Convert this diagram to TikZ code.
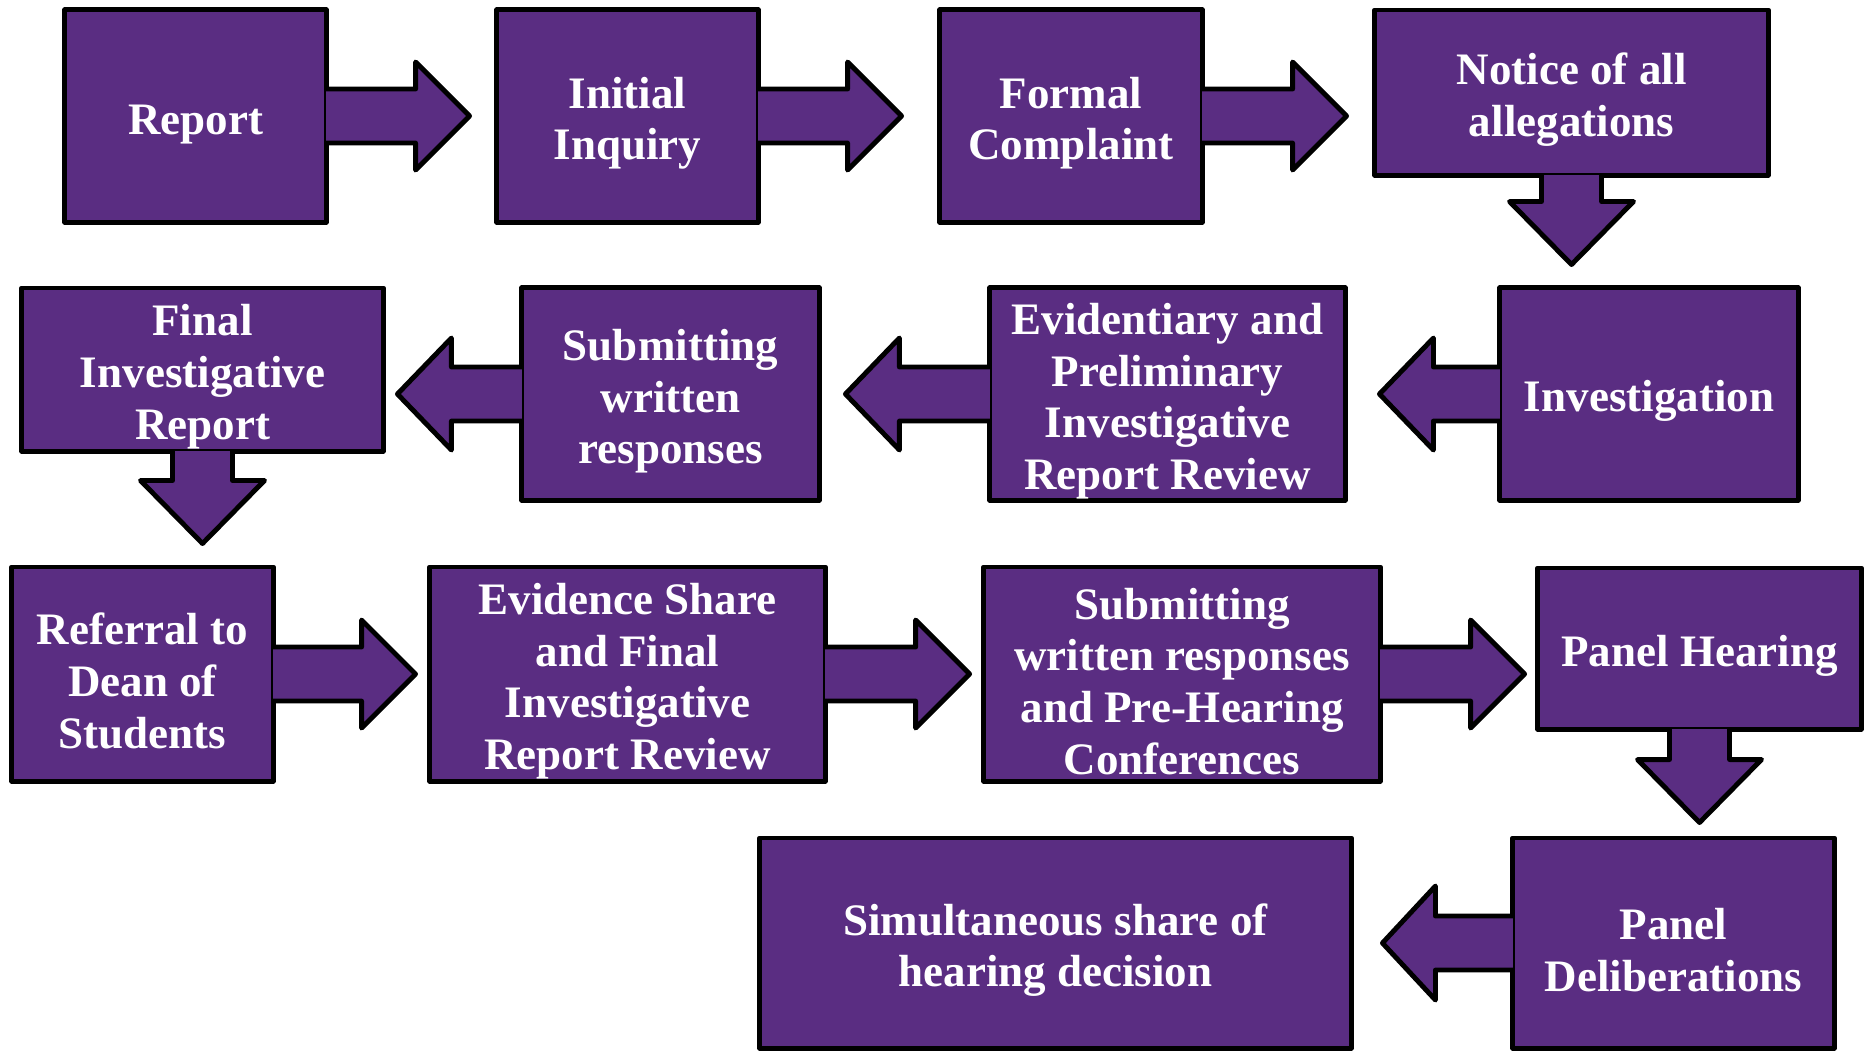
\documentclass[tikz,border=0pt]{standalone}
\usepackage{fontspec}
\setmainfont{Liberation Serif}
\definecolor{procpurple}{RGB}{90,45,130}
\tikzset{
  stage/.style={draw, fill=procpurple, line width=1.4pt, line join=round, text=white,
    font=\fontsize{12.8}{14.7}\selectfont\bfseries, align=center, inner sep=0pt},
  pointer/.style={draw, fill=procpurple, line width=1.4pt, line join=round},
  go right/.style={shift={(#1)}, x={(0.01cm,0)}, y={(0,0.01cm)}},
  go left/.style={shift={(#1)}, x={(-0.01cm,0)}, y={(0,0.01cm)}},
  go down/.style={shift={(#1)}, x={(0,-0.01cm)}, y={(0.01cm,0)}}
}
\newcommand{\boxstrut}{\rule{0pt}{13pt}}
% #1 side, #2 shaft length, #3 half shaft, #4 half head, #5 head length
\newcommand{\callout}[5]{%
  \filldraw[pointer,#1] (-2.5,#3) -- (#2,#3) -- (#2,#4) -- ({#2+#5},0)
    -- (#2,-#4) -- (#2,-#3) -- (-2.5,-#3);}

\begin{document}
\begin{tikzpicture}[x=0.01cm,y=-0.01cm]
\useasboundingbox (0,0) rectangle (1864,1050);
\node[stage, minimum width=2.61cm, minimum height=2.12cm] (report) at (195.5,116) {\boxstrut Report};
\node[stage, minimum width=2.61cm, minimum height=2.12cm] (inquiry) at (627.5,116) {\boxstrut Initial\\Inquiry};
\node[stage, minimum width=2.62cm, minimum height=2.12cm] (complaint) at (1071,116) {\boxstrut Formal\\Complaint};
\node[stage, minimum width=3.93cm, minimum height=1.65cm] (notice) at (1571.5,92.5) {\boxstrut Notice of all\\allegations};
\callout{go right=report.east}{87}{27}{54}{54}
\callout{go right=inquiry.east}{87}{27}{54}{54}
\callout{go right=complaint.east}{88}{27}{54}{54}
\callout{go down=notice.south}{24}{30}{62}{63}

\node[stage, minimum width=2.98cm, minimum height=2.12cm] (investigation) at (1649,394) {\boxstrut Investigation};
\node[stage, minimum width=3.55cm, minimum height=2.12cm] (prelim) at (1167.5,394) {\boxstrut Evidentiary and\\Preliminary\\Investigative\\Report Review};
\node[stage, minimum width=2.97cm, minimum height=2.12cm] (responses) at (670.5,394) {\boxstrut Submitting\\written\\responses};
\node[stage, minimum width=3.61cm, minimum height=1.63cm] (final) at (202.5,369.5) {\boxstrut Final\\Investigative\\Report};
\callout{go left=investigation.west}{64}{27}{56}{54}
\callout{go left=prelim.west}{88}{27}{56}{54}
\callout{go left=responses.west}{68}{27}{56}{54}
\callout{go down=final.south}{27}{30}{62}{63}

\node[stage, minimum width=2.61cm, minimum height=2.14cm] (referral) at (142.5,674) {\boxstrut Referral to\\Dean of\\Students};
\node[stage, minimum width=3.95cm, minimum height=2.14cm] (share) at (627.5,674) {\boxstrut Evidence Share\\and Final\\Investigative\\Report Review};
\node[stage, minimum width=3.96cm, minimum height=2.14cm] (prehearing) at (1182,674) {\boxstrut Submitting\\written responses\\and Pre-Hearing\\Conferences};
\node[stage, minimum width=3.23cm, minimum height=1.61cm] (hearing) at (1699.5,648.5) {\boxstrut Panel Hearing};
\callout{go right=referral.east}{86}{27}{54}{54}
\callout{go right=share.east}{88}{27}{54}{54}
\callout{go right=prehearing.east}{88}{27}{54}{54}
\callout{go down=hearing.south}{28}{30}{62}{63}

\node[stage, minimum width=3.21cm, minimum height=2.10cm] (deliberations) at (1673.5,943) {\boxstrut Panel\\Deliberations};
\node[stage, minimum width=5.91cm, minimum height=2.10cm] (decision) at (1055.5,943) {\boxstrut Simultaneous share of\\hearing decision};
\callout{go left=deliberations.west}{75}{27}{57}{53}
\end{tikzpicture}
\end{document}
